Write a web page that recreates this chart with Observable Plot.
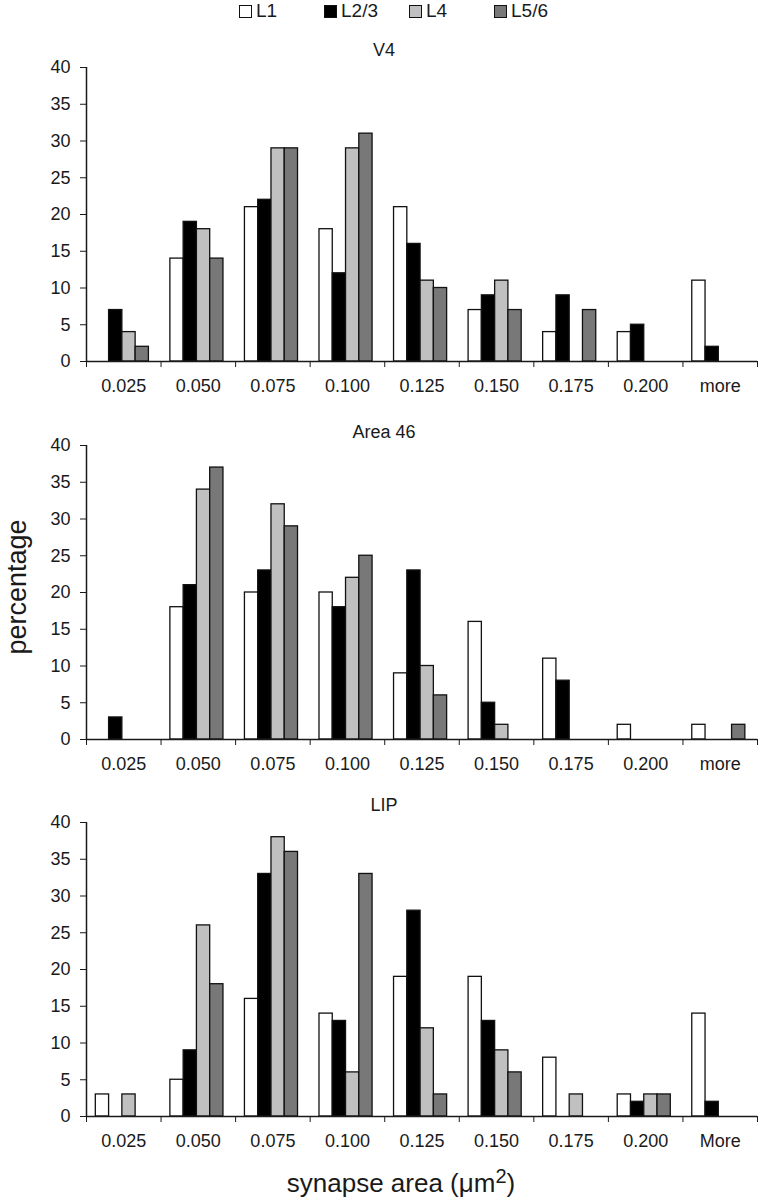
<!DOCTYPE html>
<html>
<head>
<meta charset="utf-8">
<script src="https://cdn.jsdelivr.net/npm/d3@7"></script>
<script src="https://cdn.jsdelivr.net/npm/@observablehq/plot@0.6"></script>
<style>
  body { margin: 0; background: white; }
  #root { position: relative; width: 758px; height: 1200px; font-family: "Liberation Sans", Arial, sans-serif; color: #1a1a1a; overflow: hidden; }
  .abs { position: absolute; }
  .title { left: 0; width: 768px; text-align: center; font-size: 18px; line-height: 20px; }
  .legend { top: 1px; left: 239px; display: flex; font-size: 19px; line-height: 20px; }
  .legend .item { display: flex; align-items: center; width: 85px; }
  .legend .sw { width: 11px; height: 11px; border: 1px solid #111; margin-right: 4px; box-sizing: content-box; }
  .ylab { left: 17px; top: 587px; transform: translate(-50%, -50%) rotate(-90deg); font-size: 27px; white-space: nowrap; }
  .xlab { left: 401px; top: 1183px; transform: translate(-50%, -50%); font-size: 26px; white-space: nowrap; }
  .xlab sup { font-size: 20px; vertical-align: 9px; line-height: 0; }
</style>
</head>
<body>
<div id="root"></div>
<script>
// ---- data ----
const series = ["L1", "L2/3", "L4", "L5/6"];
const seriesColors = ["#ffffff", "#000000", "#c0c0c0", "#787878"];

const binsV4 = ["0.025", "0.050", "0.075", "0.100", "0.125", "0.150", "0.175", "0.200", "more"];
const bins46 = ["0.025", "0.050", "0.075", "0.100", "0.125", "0.150", "0.175", "0.200", "more"];
const binsLIP = ["0.025", "0.050", "0.075", "0.100", "0.125", "0.150", "0.175", "0.200", "More"];

const v4_L1  = [0, 14, 21, 18, 21, 7, 4, 4, 11];
const v4_L23 = [7, 19, 22, 12, 16, 9, 9, 5, 2];
const v4_L4  = [4, 18, 29, 29, 11, 11, 0, 0, 0];
const v4_L56 = [2, 14, 29, 31, 10, 7, 7, 0, 0];

const a46_L1  = [0, 18, 20, 20, 9, 16, 11, 2, 2];
const a46_L23 = [3, 21, 23, 18, 23, 5, 8, 0, 0];
const a46_L4  = [0, 34, 32, 22, 10, 2, 0, 0, 0];
const a46_L56 = [0, 37, 29, 25, 6, 0, 0, 0, 2];

const lip_L1  = [3, 5, 16, 14, 19, 19, 8, 3, 14];
const lip_L23 = [0, 9, 33, 13, 28, 13, 0, 2, 2];
const lip_L4  = [3, 26, 38, 6, 12, 9, 3, 3, 0];
const lip_L56 = [0, 18, 36, 33, 3, 6, 0, 3, 0];

const yTicks = [0, 5, 10, 15, 20, 25, 30, 35, 40];

const panels = [
  {title: "V4", bins: binsV4, values: [v4_L1, v4_L23, v4_L4, v4_L56], top: 40, titleTop: 40},
  {title: "Area 46", bins: bins46, values: [a46_L1, a46_L23, a46_L4, a46_L56], top: 418, titleTop: 422},
  {title: "LIP", bins: binsLIP, values: [lip_L1, lip_L23, lip_L4, lip_L56], top: 795, titleTop: 795}
];

// ---- layout ----
const root = document.getElementById("root");
const OFF = 0.125, W = 0.178;

// legend
const legend = document.createElement("div");
legend.className = "abs legend";
series.forEach((s, i) => {
  const it = document.createElement("div");
  it.className = "item";
  const sw = document.createElement("div");
  sw.className = "sw";
  sw.style.background = seriesColors[i];
  const t = document.createElement("span");
  t.textContent = s;
  it.appendChild(sw); it.appendChild(t);
  legend.appendChild(it);
});
root.appendChild(legend);

panels.forEach(p => {
  const rows = [];
  p.values.forEach((arr, s) => arr.forEach((v, b) => {
    if (v > 0) rows.push({bin: b, s, series: series[s], value: v});
  }));
  const n = p.bins.length;
  const chart = Plot.plot({
    width: 758, height: 355,
    marginLeft: 86, marginRight: 1, marginTop: 27, marginBottom: 34,
    style: {fontFamily: "'Liberation Sans', Arial, sans-serif", fontSize: "18px", color: "#1a1a1a", background: "transparent", overflow: "visible"},
    x: {domain: [0, n], ticks: d3.range(n + 1), tickFormat: () => "", tickSize: 6, label: null},
    y: {domain: [0, 40], ticks: yTicks, tickSize: 6, tickPadding: 10, label: null},
    color: {domain: series, range: seriesColors},
    marks: [
      Plot.rect(rows, {
        x1: d => d.bin + OFF + d.s * W,
        x2: d => d.bin + OFF + (d.s + 1) * W,
        y1: () => 0,
        y2: "value",
        fill: "series",
        stroke: "#111",
        strokeWidth: 1.3
      }),
      Plot.ruleY([0], {stroke: "#1a1a1a", strokeWidth: 1.5}),
      Plot.ruleX([0], {stroke: "#1a1a1a", strokeWidth: 1.5}),
      Plot.text(p.bins, {x: (d, i) => i + 0.5, y: () => 0, text: d => d, dy: 25, fontSize: 18, fill: "#1a1a1a"})
    ]
  });
  chart.style.position = "absolute";
  chart.style.left = "0px";
  chart.style.top = p.top + "px";
  root.appendChild(chart);

  const t = document.createElement("div");
  t.className = "abs title";
  t.style.top = p.titleTop + "px";
  t.textContent = p.title;
  root.appendChild(t);
});

const yl = document.createElement("div");
yl.className = "abs ylab";
yl.textContent = "percentage";
root.appendChild(yl);

const xl = document.createElement("div");
xl.className = "abs xlab";
xl.innerHTML = "synapse area (μm<sup>2</sup>)";
root.appendChild(xl);
</script>
</body>
</html>
